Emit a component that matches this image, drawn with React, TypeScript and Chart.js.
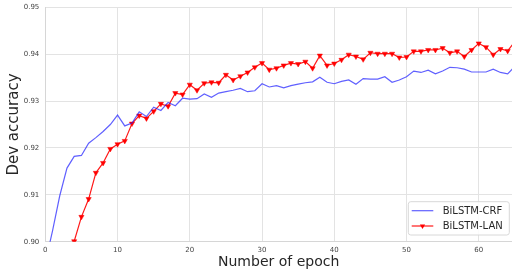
import React, { useEffect, useRef } from "react";
import { Chart, registerables } from "chart.js";

Chart.register(...registerables);

const epochs = [
  0, 1, 2, 3, 4, 5, 6, 7, 8, 9, 10, 11, 12, 13, 14, 15, 16, 17, 18, 19, 20,
  21, 22, 23, 24, 25, 26, 27, 28, 29, 30, 31, 32, 33, 34, 35, 36, 37, 38, 39,
  40, 41, 42, 43, 44, 45, 46, 47, 48, 49, 50, 51, 52, 53, 54, 55, 56, 57, 58,
  59, 60, 61, 62, 63, 64, 65,
];

const bilstmCrf = [
  0.8955, 0.9023, 0.9098, 0.9157, 0.9182, 0.9184, 0.921, 0.9222, 0.9235, 0.925,
  0.927, 0.9247, 0.9253, 0.9277, 0.9267, 0.9287, 0.928, 0.9297, 0.929, 0.9306,
  0.9304, 0.9305, 0.9315, 0.9308, 0.9317, 0.932, 0.9323, 0.9327, 0.932, 0.9322,
  0.9337, 0.933, 0.9333, 0.9328, 0.9333, 0.9336, 0.9339, 0.9341, 0.9351, 0.934,
  0.9337, 0.9342, 0.9345, 0.9336, 0.9348, 0.9347, 0.9347, 0.9352, 0.934, 0.9345,
  0.9352, 0.9364, 0.9361, 0.9366, 0.9358, 0.9364, 0.9372, 0.9371, 0.9368, 0.9362,
  0.9362, 0.9362, 0.9368, 0.9361, 0.9358, 0.9374,
];

const bilstmLan = [
  null, null, null, null, 0.9001, 0.9053, 0.9091, 0.9147, 0.9168, 0.9198,
  0.9208, 0.9215, 0.9252, 0.9269, 0.9263, 0.9278, 0.9294, 0.9289, 0.9317, 0.9314,
  0.9335, 0.9323, 0.9338, 0.934, 0.9339, 0.9356, 0.9345, 0.9353, 0.9361, 0.9372,
  0.9381, 0.9367, 0.937, 0.9376, 0.9381, 0.9379, 0.9384, 0.937, 0.9397, 0.9376,
  0.938, 0.9388, 0.9399, 0.9395, 0.9389, 0.9403, 0.9401, 0.9401, 0.9401, 0.9393,
  0.9394, 0.9406, 0.9406, 0.9409, 0.9409, 0.9413, 0.9403, 0.9406, 0.9395, 0.9409,
  0.9423, 0.9415, 0.9399, 0.9411, 0.9407, 0.9427,
];

const seriesNames = ["BiLSTM-CRF", "BiLSTM-LAN"];
const xLabel = "Number of epoch";
const yLabel = "Dev accuracy";

const FONT = "'DejaVu Sans', sans-serif";
const BLUE = "rgba(20,20,255,0.68)";
const RED = "rgba(255,0,0,0.9)";

export default function App() {
  const ref = useRef<HTMLCanvasElement>(null);

  useEffect(() => {
    document.body.style.margin = "0";
    const canvas = ref.current;
    if (!canvas) return;

    const legendPlugin = {
      id: "boxLegend",
      afterDraw(chart: any) {
        const { ctx, chartArea } = chart;
        const w = 101;
        const h = 33.3;
        const x = chartArea.right - 2.7 - w;
        const y = chartArea.bottom - 6.7 - h;
        ctx.save();
        ctx.beginPath();
        const r = 2.5;
        ctx.moveTo(x + r, y);
        ctx.lineTo(x + w - r, y);
        ctx.quadraticCurveTo(x + w, y, x + w, y + r);
        ctx.lineTo(x + w, y + h - r);
        ctx.quadraticCurveTo(x + w, y + h, x + w - r, y + h);
        ctx.lineTo(x + r, y + h);
        ctx.quadraticCurveTo(x, y + h, x, y + h - r);
        ctx.lineTo(x, y + r);
        ctx.quadraticCurveTo(x, y, x + r, y);
        ctx.closePath();
        ctx.fillStyle = "rgba(255,255,255,0.85)";
        ctx.fill();
        ctx.strokeStyle = "#d8d8d8";
        ctx.lineWidth = 1;
        ctx.stroke();

        const rows = [y + 9, y + 24.3];
        const colors = [BLUE, RED];
        chart.data.datasets.forEach((ds: any, i: number) => {
          const ry = rows[i];
          ctx.beginPath();
          ctx.moveTo(x + 3.4, ry);
          ctx.lineTo(x + 25, ry);
          ctx.strokeStyle = colors[i];
          ctx.lineWidth = 1.2;
          ctx.stroke();
          if (i === 1) {
            const cx = x + 14.2;
            const rr = 3;
            ctx.beginPath();
            ctx.moveTo(cx - rr * 0.87, ry - rr * 0.5);
            ctx.lineTo(cx + rr * 0.87, ry - rr * 0.5);
            ctx.lineTo(cx, ry + rr);
            ctx.closePath();
            ctx.fillStyle = "#ff0000";
            ctx.fill();
          }
          ctx.fillStyle = "#262626";
          ctx.font = `10px ${FONT}`;
          ctx.textBaseline = "middle";
          ctx.textAlign = "left";
          ctx.fillText(ds.label, x + 34.4, ry + 0.5);
        });
        ctx.restore();
      },
    };

    const chart = new Chart(canvas, {
      type: "line",
      data: {
        datasets: [
          {
            label: seriesNames[0],
            data: epochs.map((e, i) => ({ x: e, y: bilstmCrf[i] })),
            borderColor: BLUE,
            backgroundColor: BLUE,
            borderWidth: 1.2,
            pointRadius: 0,
            tension: 0,
            clip: 0,
          },
          {
            label: seriesNames[1],
            data: epochs.map((e, i) => ({ x: e, y: bilstmLan[i] })),
            borderColor: RED,
            backgroundColor: "#ff0000",
            borderWidth: 1.2,
            pointStyle: "triangle",
            rotation: 180,
            pointRadius: 3,
            pointBackgroundColor: "#ff0000",
            pointBorderColor: "#ff0000",
            pointBorderWidth: 0.5,
            tension: 0,
            clip: 0,
          },
        ] as any,
      },
      options: {
        responsive: false,
        animation: false,
        events: [],
        layout: { autoPadding: false, padding: { top: 7.3, right: 0, left: 0, bottom: 0 } },
        plugins: {
          legend: { display: false },
          tooltip: { enabled: false },
        },
        scales: {
          x: {
            type: "linear",
            min: 0,
            max: 64.6,
            afterFit(s: any) {
              s.height = 31.3;
              s.paddingLeft = 0;
              s.paddingRight = 0;
              s.paddingTop = 0;
              s.paddingBottom = 0;
            },
            ticks: {
              stepSize: 10,
              includeBounds: false,
              font: { family: FONT, size: 7 },
              color: "#444",
              padding: 4,
            },
            grid: { color: "#e3e3e3", drawTicks: false, lineWidth: 1 },
            border: { color: "#d6d6d6" },
            title: {
              display: true,
              text: xLabel,
              font: { family: FONT, size: 14 },
              color: "#262626",
              padding: { top: 0, bottom: 2 },
            },
          },
          y: {
            type: "linear",
            min: 0.9,
            max: 0.95,
            afterFit(s: any) {
              s.width = 45.3;
              s.paddingLeft = 0;
              s.paddingRight = 0;
              s.paddingTop = 0;
              s.paddingBottom = 0;
            },
            ticks: {
              stepSize: 0.01,
              font: { family: FONT, size: 7 },
              color: "#444",
              padding: 6,
              callback: (v: any) => Number(v).toFixed(2),
            },
            grid: { color: "#e3e3e3", drawTicks: false, lineWidth: 1 },
            border: { color: "#d6d6d6" },
            title: {
              display: true,
              text: yLabel,
              font: { family: FONT, size: 15 },
              color: "#262626",
              padding: { top: 5, bottom: 0 },
            },
          },
        },
      } as any,
      plugins: [legendPlugin],
    });

    return () => chart.destroy();
  }, []);

  return (
    <div style={{ width: 512, height: 273, overflow: "hidden", background: "#fff" }}>
      <canvas ref={ref} width={512} height={273} style={{ display: "block" }} />
    </div>
  );
}
